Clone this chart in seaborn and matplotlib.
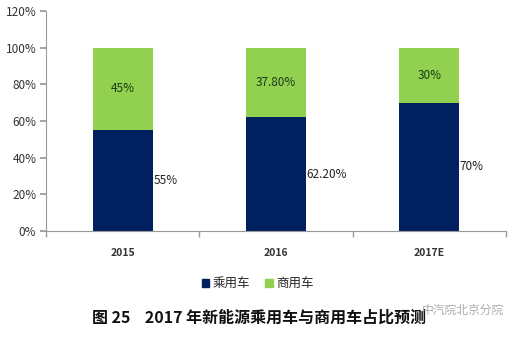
import matplotlib
matplotlib.use("Agg")
import matplotlib.pyplot as plt
import seaborn as sns
import pandas as pd
from matplotlib.ticker import FixedLocator

years = ["2015", "2016", "2017E"]
passenger = [55.0, 62.2, 70.0]
commercial = [45.0, 37.8, 30.0]
passenger_labels = ["55%", "62.20%", "70%"]
commercial_labels = ["45%", "37.80%", "30%"]
yticks = [0, 20, 40, 60, 80, 100, 120]

sns.set_theme(style="white")
plt.rcParams["font.family"] = ["Noto Sans CJK SC", "DejaVu Sans"]

navy = "#002060"
green = "#92D050"

df = pd.DataFrame({
    "year": years,
    "passenger": passenger,
    "total": [p + c for p, c in zip(passenger, commercial)],
})

fig = plt.figure(figsize=(5.21, 3.45), dpi=100)
ax = fig.add_axes([0.0883, 0.330, 0.8827, 0.638])

# Stacked bars: full-height green (commercial on top) overdrawn by navy passenger share
sns.barplot(data=df, x="year", y="total", color=green, width=0.39,
            saturation=1, ax=ax, linewidth=0)
sns.barplot(data=df, x="year", y="passenger", color=navy, width=0.39,
            saturation=1, ax=ax, linewidth=0)

for i, (p, c) in enumerate(zip(passenger, commercial)):
    ax.text(i + 0.2, p / 2, passenger_labels[i], ha="left", va="center",
            fontsize=8.5, color="#222222")
    ax.text(i, p + c / 2, commercial_labels[i], ha="center", va="center",
            fontsize=8.5, color="#1a3a1a")

ax.set_xlim(-0.5, 2.5)
ax.set_ylim(0, 120)
ax.set_yticks(yticks)
ax.set_yticklabels([f"{v}%" for v in yticks], fontsize=8.5, color="#333333")
ax.set_xticks(range(len(years)))
ax.set_xticklabels(years, fontsize=7.5, color="#333333", fontweight="bold")
ax.xaxis.set_minor_locator(FixedLocator([-0.5, 0.5, 1.5, 2.5]))
ax.tick_params(axis="x", which="major", length=0, pad=12)
ax.tick_params(axis="x", which="minor", length=4, color="#999999", bottom=True)
ax.tick_params(axis="y", length=4, color="#999999", left=True, pad=3)
ax.set_xlabel("")
ax.set_ylabel("")

for side in ["top", "right"]:
    ax.spines[side].set_visible(False)
for side in ["left", "bottom"]:
    ax.spines[side].set_color("#999999")
    ax.spines[side].set_linewidth(0.8)

legend_handles = [
    plt.Rectangle((0, 0), 1, 1, color=navy),
    plt.Rectangle((0, 0), 1, 1, color=green),
]
fig.legend(legend_handles, ["乘用车", "商用车"],
           loc="center", bbox_to_anchor=(0.495, 0.178), ncol=2, frameon=False,
           fontsize=9, handlelength=0.6, handleheight=0.6, handletextpad=0.3,
           columnspacing=1.2)

fig.text(0.497, 0.078, "图 25    2017 年新能源乘用车与商用车占比预测",
         ha="center", va="center", fontsize=11.5, fontweight="bold",
         color="#111111")
fig.text(0.888, 0.10, "中汽院北京分院", ha="center", va="center",
         fontsize=8.5, color="#999999", alpha=0.8)

fig.savefig("out.png", dpi=100)
